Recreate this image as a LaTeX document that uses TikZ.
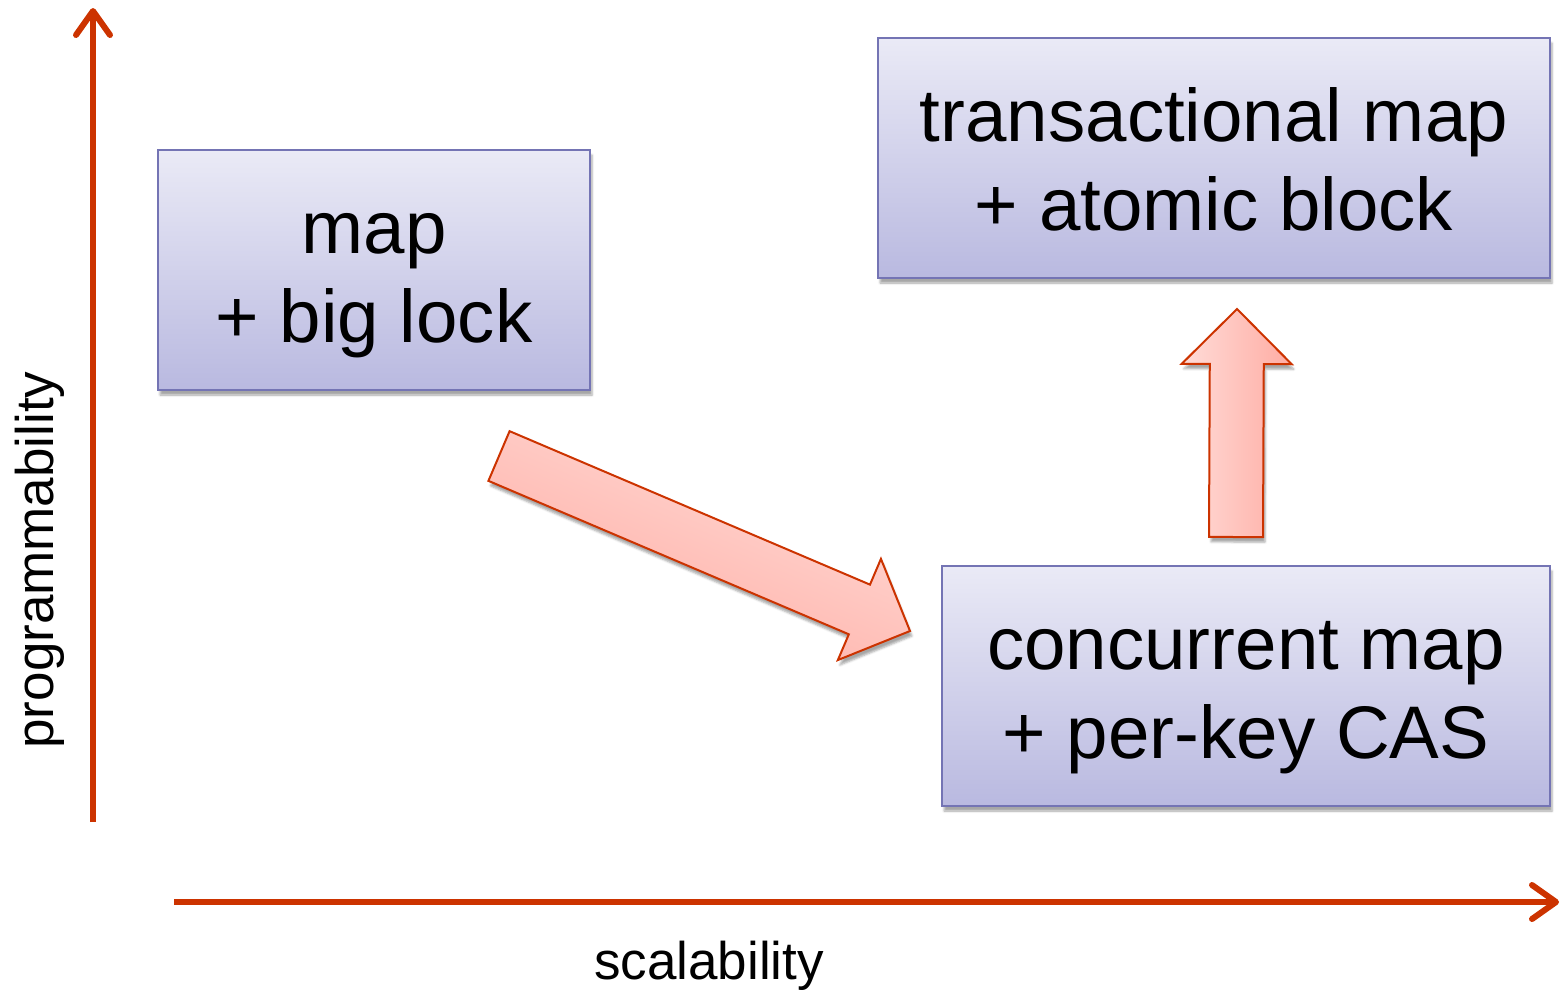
\documentclass[tikz,border=0pt]{standalone}
\usepackage{fontspec}
\setmainfont{Liberation Sans}
\usetikzlibrary{positioning,arrows.meta,calc,shadows.blur}

\definecolor{axisred}{HTML}{CC3300}
\definecolor{boxtop}{HTML}{EAEAF6}
\definecolor{boxbot}{HTML}{B9B9E0}
\definecolor{boxline}{HTML}{7474B4}
\definecolor{arrtop}{HTML}{FFDCD8}
\definecolor{arrbot}{HTML}{FFACA3}

% two lines of box text with fixed height and depth
\newcommand{\twolines}[2]{\rule{0pt}{72pt}#1\\#2\vphantom{p}}

% fat arrow from #1 to #2, shaded across at angle #3
\newcommand{\fatarrow}[3]{%
  \draw[fatarr,shading angle=#3]
    ($(#1)!27pt!-90:(#2)$) -- ($($(#2)!55pt!(#1)$)!27pt!-90:(#2)$)
    -- ($($(#2)!55pt!(#1)$)!55pt!-90:(#2)$) -- (#2)
    -- ($($(#2)!55pt!(#1)$)!55pt!90:(#2)$)
    -- ($($(#2)!55pt!(#1)$)!27pt!90:(#2)$)
    -- ($(#1)!27pt!90:(#2)$) -- cycle;}

\begin{document}
\begin{tikzpicture}[x=1pt,y=-1pt,
    axis/.style={draw=axisred,line width=6pt,
      -{Straight Barb[length=24pt,width=34pt,round]}},
    stage/.style={draw=boxline,line width=2pt,top color=boxtop,bottom color=boxbot,
      minimum height=240pt,inner sep=0pt,align=center,
      font=\fontsize{74.5}{89}\selectfont,
      blur shadow={shadow xshift=2pt,shadow yshift=-5pt,shadow opacity=35}},
    fatarr/.style={draw=axisred,line width=2pt,top color=arrtop,bottom color=arrbot,
      blur shadow={shadow xshift=2pt,shadow yshift=-5pt,shadow opacity=35}},
    axlabel/.style={font=\fontsize{53}{64}\selectfont}]
  \useasboundingbox (0,0) rectangle (1562,989);

  \node[stage,minimum width=432pt] (lock) at (374,270)
    {\twolines{map}{+ big lock}};
  \node[stage,minimum width=672pt] (atomic) at (1214,158)
    {\twolines{transactional map}{+ atomic block}};
  \node[stage,minimum width=608pt] (cas) at (1246,686)
    {\twolines{concurrent map}{+ per-key CAS}};

  \coordinate (d1) at (499,456);
  \coordinate (d2) at (910,631);
  \coordinate (u1) at (1236,537);
  \coordinate (u2) at (1237,309);
  \fatarrow{d1}{d2}{-23}
  \fatarrow{u1}{u2}{90}

  \coordinate (y0) at (93,822);
  \coordinate (y1) at (93,8);
  \coordinate (x0) at (174,902);
  \coordinate (x1) at (1559,902);
  \draw[axis] (y0) -- (y1);
  \draw[axis] (x0) -- (x1);
  \node[axlabel,rotate=90] (prog) at (40,560) {programmability};
  \node[axlabel] (scal) at (709,966) {scalability};
\end{tikzpicture}
\end{document}
